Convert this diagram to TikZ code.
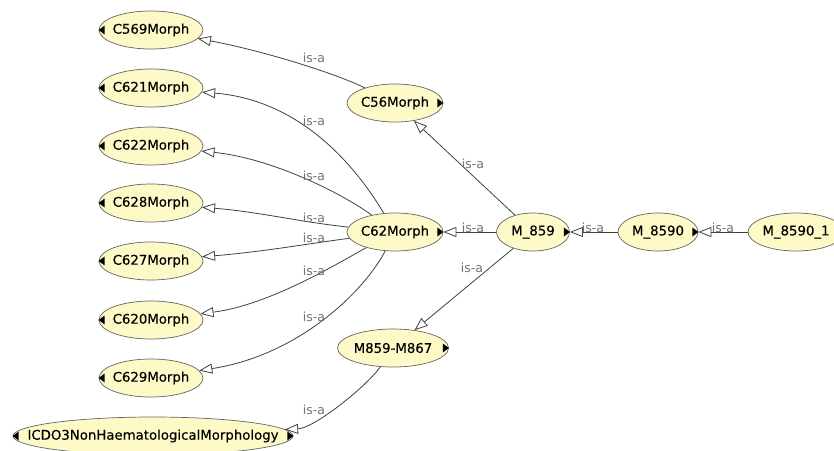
\documentclass[tikz,border=0pt]{standalone}
\usepackage{fontspec}
\setmainfont{DejaVu Sans}
\newfontfamily\nodefont[FakeBold=0.3]{DejaVu Sans}
\usetikzlibrary{arrows.meta,shapes.geometric}
\definecolor{nodefill}{RGB}{253,250,200}
\definecolor{nodeline}{RGB}{100,100,100}
\definecolor{edgecol}{RGB}{65,65,65}
\definecolor{labcol}{RGB}{115,115,115}
\tikzset{
 cls/.style={ellipse, draw=nodeline, fill=nodefill, line width=0.7pt, inner ysep=0pt, inner xsep=-20pt, minimum height=38pt, font=\nodefont\fontsize{13.3}{15}\selectfont, text=black},
 isa/.style={draw=edgecol, line width=0.8pt, -{Triangle[open,length=13pt,width=10pt,fill=white]}},
 lbl/.style={font=\fontsize{12.5}{14}\selectfont, text=labcol, inner sep=0pt},
 tri/.style={fill=black}
}
\begin{document}
\begin{tikzpicture}[x=1pt,y=-1pt]
\clip (0,0) rectangle (834,450);
\fill[white] (0,0) rectangle (834,450);
% nodes
\node[cls, minimum width=104pt] (c569) at (151,30) {C569Morph};
\node[cls, minimum width=104pt] (c621) at (151,88) {C621Morph};
\node[cls, minimum width=104pt] (c622) at (151,146) {C622Morph};
\node[cls, minimum width=104pt] (c628) at (151,203) {C628Morph};
\node[cls, minimum width=104pt] (c627) at (151,261) {C627Morph};
\node[cls, minimum width=104pt] (c620) at (151,320) {C620Morph};
\node[cls, minimum width=104pt] (c629) at (151,378) {C629Morph};
\node[cls, minimum width=280pt, inner xsep=-40pt] (icdo) at (153,436) {ICDO3NonHaematologicalMorphology};
\node[cls, minimum width=96pt] (c56) at (395,103) {C56Morph};
\node[cls, minimum width=96pt] (c62) at (395,232) {C62Morph};
\node[cls, minimum width=73pt] (m859) at (533,232) {M\_859};
\node[cls, minimum width=80pt] (m8590) at (658,232) {M\_8590};
\node[cls, minimum width=96pt] (m85901) at (796,232) {M\_8590\_1};
\node[cls, minimum width=111pt] (mrange) at (393,348) {M859-M867};
% expander triangles
\foreach \n in {c569,c621,c622,c628,c627,c620,c629,icdo}
  \fill[tri] (\n.west) -- ++(6,-4.5) -- ++(0,9) -- cycle;
\foreach \n in {icdo,c56,c62,m859,m8590,mrange}
  \fill[tri] (\n.east) -- ++(-6,-4.5) -- ++(0,9) -- cycle;
% edges
\draw[isa] (c56) .. controls (335,73) and (260,50) .. (c569);
\draw[isa] (c62) .. controls (355,165) and (300,100) .. (c621);
\draw[isa] (c62) .. controls (340,192) and (270,158) .. (c622);
\draw[isa] (c62) .. controls (300,222) and (260,212) .. (c628);
\draw[isa] (c62) .. controls (300,245) and (260,252) .. (c627);
\draw[isa] (c62) .. controls (340,262) and (270,305) .. (c620);
\draw[isa] (c62) .. controls (365,290) and (300,355) .. (c629);
\draw[isa] (mrange) .. controls (368,385) and (315,428) .. (icdo);
\draw[isa] (m859) -- (c56);
\draw[isa] (m859) -- (mrange);
\draw[isa] (m859) -- (c62);
\draw[isa] (m8590) -- (m859);
\draw[isa] (m85901) -- (m8590);
% labels
\node[lbl] (l1) at (314,58) {is-a};
\node[lbl] (l2) at (314,121) {is-a};
\node[lbl] (l3) at (314,176) {is-a};
\node[lbl] (l4) at (314,218) {is-a};
\node[lbl] (l5) at (314,238) {is-a};
\node[lbl] (l6) at (314,271) {is-a};
\node[lbl] (l7) at (314,317) {is-a};
\node[lbl] (l8) at (314,410) {is-a};
\node[lbl] (l9) at (473,164) {is-a};
\node[lbl] (l10) at (473,228) {is-a};
\node[lbl] (l11) at (472,268) {is-a};
\node[lbl] (l12) at (593,228) {is-a};
\node[lbl] (l13) at (723,228) {is-a};
\end{tikzpicture}
\end{document}
